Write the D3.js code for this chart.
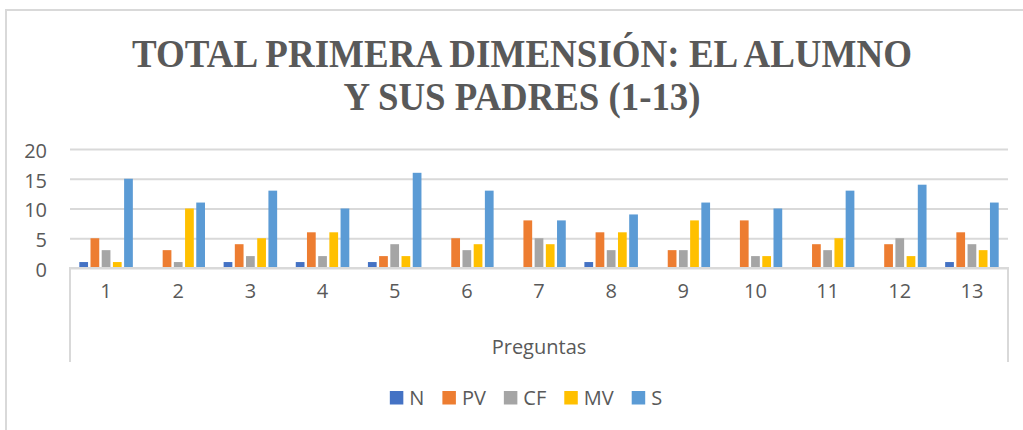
<!DOCTYPE html>
<html>
<head>
<meta charset="utf-8">
<script src="https://cdn.jsdelivr.net/npm/d3@7"></script>
<style>
  html, body { margin: 0; padding: 0; background: #fff; }
  svg { display: block; }
</style>
</head>
<body>
<svg id="chart" width="1023" height="430"></svg>
<script>
// Preguntas 1-13 of the first dimension, one group per question
const categories = ["1","2","3","4","5","6","7","8","9","10","11","12","13"];
const seriesNames = ["N","PV","CF","MV","S"];
const seriesColors = ["#4472C4","#ED7D31","#A5A5A5","#FFC000","#5B9BD5"];
const valuesN  = [1,0,1,1,1,0,0,1,0,0,0,0,1];
const valuesPV = [5,3,4,6,2,5,8,6,3,8,4,4,6];
const valuesCF = [3,1,2,2,4,3,5,3,3,2,3,5,4];
const valuesMV = [1,10,5,6,2,4,4,6,8,2,5,2,3];
const valuesS  = [15,11,13,10,16,13,8,9,11,10,13,14,11];
const yTicks = [0,5,10,15,20];
const titleLines = ["TOTAL PRIMERA DIMENSIÓN: EL ALUMNO", "Y SUS PADRES (1-13)"];
const axisTitle = "Preguntas";

const seriesValues = [valuesN, valuesPV, valuesCF, valuesMV, valuesS];
const rows = categories.map((c, i) => ({
  cat: c,
  vals: seriesNames.map((s, j) => ({ key: s, value: seriesValues[j][i] }))
}));

const svg = d3.select("#chart");
const textColor = "#595959";
const lineColor = "#D9D9D9";
const font = "'Open Sans', 'Noto Sans', sans-serif";

const plot = { left: 70, right: 1008, top: 149, bottom: 268 };

// chart frame (left and top edges)
svg.append("path")
  .attr("d", "M6,430 L6,10 L1023,10")
  .attr("fill", "none")
  .attr("stroke", lineColor)
  .attr("stroke-width", 2);

// title, two lines of condensed bold serif
const titleX = 522;
const titleBaselines = [67, 110];
const titleWidths = [780, 357];
titleLines.forEach((t, i) => {
  svg.append("text")
    .attr("x", titleX)
    .attr("y", titleBaselines[i])
    .attr("text-anchor", "middle")
    .attr("font-family", "'Liberation Serif', 'Times New Roman', serif")
    .attr("font-weight", "bold")
    .attr("font-size", 40)
    .attr("fill", textColor)
    .attr("textLength", titleWidths[i])
    .attr("lengthAdjust", "spacingAndGlyphs")
    .text(t);
});

const x0 = d3.scaleBand()
  .domain(categories)
  .range([plot.left, plot.right])
  .paddingInner(0.258)
  .paddingOuter(0.129);

const x1 = d3.scaleBand()
  .domain(seriesNames)
  .range([0, x0.bandwidth()])
  .paddingInner(0.22)
  .paddingOuter(0);

const y = d3.scaleLinear()
  .domain([0, 20])
  .range([plot.bottom, plot.top]);

const color = d3.scaleOrdinal().domain(seriesNames).range(seriesColors);

// horizontal gridlines
const yAxis = d3.axisLeft(y)
  .tickValues(yTicks)
  .tickSize(-(plot.right - plot.left))
  .tickPadding(23)
  .tickFormat(d3.format("d"));

const gy = svg.append("g")
  .attr("transform", `translate(${plot.left},0)`)
  .call(yAxis);
gy.select(".domain").remove();
gy.selectAll(".tick line")
  .attr("stroke", lineColor)
  .attr("stroke-width", 2);
gy.selectAll(".tick text")
  .attr("font-family", font)
  .attr("font-size", 20)
  .attr("fill", textColor)
  .attr("dy", "0.42em");

// bars
svg.append("g")
  .selectAll("g")
  .data(rows)
  .join("g")
  .attr("transform", d => `translate(${x0(d.cat)},0)`)
  .selectAll("rect")
  .data(d => d.vals)
  .join("rect")
  .attr("x", d => x1(d.key))
  .attr("width", x1.bandwidth())
  .attr("y", d => y(d.value))
  .attr("height", d => y(0) - y(d.value))
  .attr("fill", d => color(d.key));

// category axis with its enclosing box
const xAxis = d3.axisBottom(x0).tickSize(0).tickPadding(24);
const gx = svg.append("g")
  .attr("transform", `translate(0,${plot.bottom})`)
  .call(xAxis);
gx.select(".domain").remove();
gx.selectAll(".tick text")
  .attr("font-family", font)
  .attr("font-size", 20)
  .attr("fill", textColor)
  .attr("dy", "0.3em");

svg.append("path")
  .attr("d", `M${plot.left},362 L${plot.left},${plot.bottom} L${plot.right},${plot.bottom} L${plot.right},362`)
  .attr("fill", "none")
  .attr("stroke", lineColor)
  .attr("stroke-width", 2);

svg.append("text")
  .attr("x", (plot.left + plot.right) / 2)
  .attr("y", 354)
  .attr("text-anchor", "middle")
  .attr("font-family", font)
  .attr("font-size", 20)
  .attr("fill", textColor)
  .text(axisTitle);

// legend, centered under the plot
const legend = svg.append("g");
const sw = 13.5, swGap = 6, itemGap = 18;
let cx = 0;
const items = seriesNames.map(name => {
  const g = legend.append("g");
  g.append("rect")
    .attr("width", sw).attr("height", sw)
    .attr("y", -sw)
    .attr("fill", color(name));
  const t = g.append("text")
    .attr("x", sw + swGap)
    .attr("y", 0)
    .attr("font-family", font)
    .attr("font-size", 20)
    .attr("fill", textColor)
    .text(name);
  const w = sw + swGap + t.node().getComputedTextLength();
  g.attr("transform", `translate(${cx},0)`);
  cx += w + itemGap;
  return g;
});
const legendWidth = cx - itemGap;
legend.attr("transform", `translate(${526 - legendWidth / 2},404.5)`);
</script>
</body>
</html>
